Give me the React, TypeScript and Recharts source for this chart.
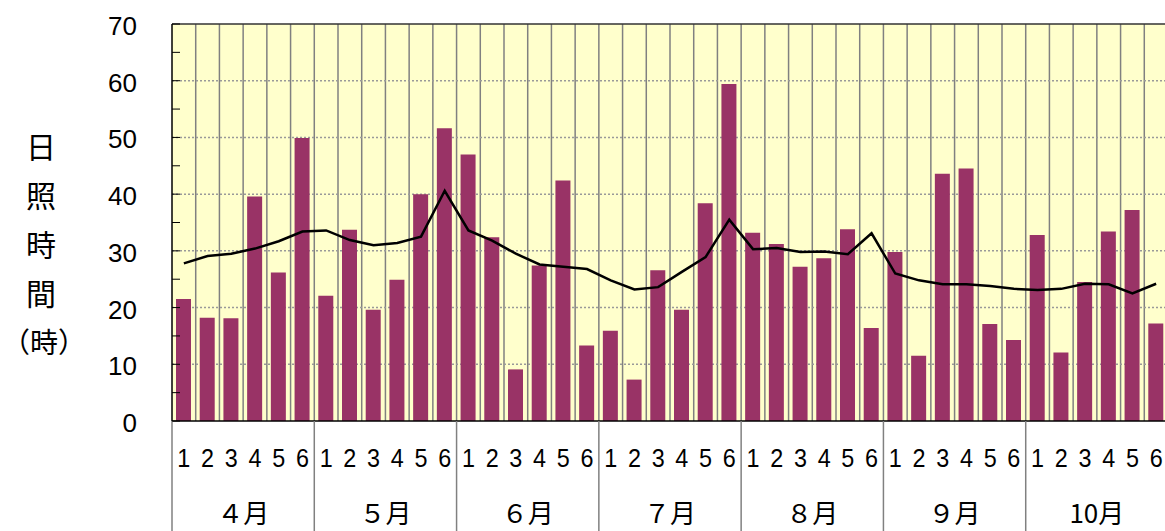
import { ComposedChart, Bar, Line, XAxis, YAxis, CartesianGrid, ReferenceLine, Label } from 'recharts'

const months = ['４月', '５月', '６月', '７月', '８月', '９月', '10月']
const days = ['1', '2', '3', '4', '5', '6']

// 半旬ごとの日照時間
const hours = [
  21.5, 18.2, 18.1, 39.6, 26.2, 49.9,
  22.1, 33.7, 19.6, 24.9, 40.0, 51.6,
  47.0, 32.4, 9.1, 27.4, 42.4, 13.3,
  15.9, 7.3, 26.6, 19.6, 38.4, 59.4,
  33.2, 31.2, 27.2, 28.7, 33.8, 16.4,
  29.8, 11.5, 43.6, 44.5, 17.1, 14.3,
  32.8, 12.1, 24.5, 33.4, 37.2, 17.2,
]

// 平年値
const normal = [
  27.8, 29.1, 29.5, 30.4, 31.7, 33.4,
  33.6, 31.9, 31.0, 31.4, 32.5, 40.6,
  33.6, 31.8, 29.5, 27.6, 27.2, 26.8,
  24.8, 23.2, 23.6, 26.3, 28.9, 35.5,
  30.3, 30.5, 29.8, 29.9, 29.4, 33.1,
  26.0, 24.8, 24.1, 24.1, 23.8, 23.3,
  23.1, 23.3, 24.2, 24.1, 22.5, 24.2,
]

const yTicks = [0, 5, 10, 15, 20, 25, 30, 35, 40, 45, 50, 55, 60, 65, 70]
const titleChars = ['日', '照', '時', '間']
const titleUnit = '（時）'

const data = hours.map((h, i) => ({
  key: i,
  day: days[i % days.length],
  month: months[Math.floor(i / days.length)],
  hours: h,
  normal: normal[i],
}))

const CHART_W = 1180
const CHART_H = 531
const PLOT_LEFT = 172
const PLOT_TOP = 24
const AXIS_H = 110
const MARGIN_RIGHT = 12
const PLOT_W = CHART_W - PLOT_LEFT - MARGIN_RIGHT
const BAND = PLOT_W / data.length
const NUM_FONT = '"Liberation Sans", Arial, sans-serif'
const JP_FONT = '"Noto Sans CJK JP", "Liberation Sans", sans-serif'

function DayTick(props: any) {
  const { x, y, payload } = props
  const index = props.index ?? payload.index
  const bottom = y + AXIS_H
  return (
    <g>
      <text x={x} y={y + 37} textAnchor="middle" dominantBaseline="central"
        fontSize={26} fontFamily={NUM_FONT} fill="#000" textLength={13} lengthAdjust="spacingAndGlyphs">
        {payload.value}
      </text>
      {index % days.length === 0 && (
        <line x1={x - BAND / 2} x2={x - BAND / 2} y1={y} y2={bottom} stroke="#808080" strokeWidth={1.5} />
      )}
      {index === data.length - 1 && (
        <line x1={x + BAND / 2} x2={x + BAND / 2} y1={y} y2={bottom} stroke="#808080" strokeWidth={1.5} />
      )}
      {index % days.length === 2 && (
        <text x={x + BAND / 2} y={y + 90} textAnchor="middle" dominantBaseline="central"
          fontSize={26} fontFamily={JP_FONT} fill="#000">
          {data[index].month}
        </text>
      )}
    </g>
  )
}

function HourTick(props: any) {
  const { y, payload } = props
  const major = payload.value % 10 === 0
  return (
    <g>
      <line x1={PLOT_LEFT} x2={PLOT_LEFT + 8} y1={y} y2={y} stroke="#000" strokeWidth={1} />
      {major && (
        <text x={PLOT_LEFT - 35} y={y + 2} textAnchor="end" dominantBaseline="central"
          fontSize={26} fontFamily={NUM_FONT} fill="#000">
          {payload.value}
        </text>
      )}
    </g>
  )
}

function AxisTitle() {
  return (
    <g>
      {titleChars.map((c, i) => (
        <text key={c} x={41} y={145 + i * 49} textAnchor="middle" dominantBaseline="central"
          fontSize={30} fontFamily={JP_FONT} fill="#000">
          {c}
        </text>
      ))}
      <text x={44} y={145 + titleChars.length * 49} textAnchor="middle" dominantBaseline="central"
        fontSize={28} fontFamily={JP_FONT} fill="#000">
        {titleUnit}
      </text>
    </g>
  )
}

export default function App() {
  return (
    <div style={{ position: 'fixed', left: 0, top: 0, width: 1165, height: 531, overflow: 'hidden', background: '#fff' }}>
      <ComposedChart
        width={CHART_W}
        height={CHART_H}
        data={data}
        margin={{ top: PLOT_TOP, right: MARGIN_RIGHT, bottom: 0, left: 0 }}
        barCategoryGap="20%"
      >
        <CartesianGrid
          fill="#FFFFCC"
          horizontal={false}
          stroke="#808080"
          strokeWidth={1.5}
          verticalCoordinatesGenerator={({ offset }: any) =>
            data.slice(1).map((_, i) => offset.left + ((i + 1) * offset.width) / data.length)
          }
        />
        <CartesianGrid
          vertical={false}
          stroke="#999"
          strokeWidth={1.5}
          strokeDasharray="2 2"
          horizontalCoordinatesGenerator={({ offset }: any) =>
            [10, 20, 30, 40, 50, 60].map((v) => offset.top + offset.height * (1 - v / 70))
          }
        />
        <XAxis
          dataKey="key"
          height={AXIS_H}
          interval={0}
          tickLine={false}
          tickSize={0}
          tickMargin={0}
          axisLine={{ stroke: '#000', strokeWidth: 1.5 }}
          tick={(p: any) => <DayTick {...p} payload={{ ...p.payload, value: data[p.payload.value]?.day ?? p.payload.value }} index={p.index ?? p.payload.index} />}
        />
        <YAxis
          width={PLOT_LEFT}
          domain={[0, 70]}
          ticks={yTicks}
          interval={0}
          tickLine={false}
          tickSize={0}
          tickMargin={0}
          axisLine={{ stroke: '#000', strokeWidth: 1.5 }}
          tick={<HourTick />}
        >
          <Label content={<AxisTitle />} />
        </YAxis>
        <ReferenceLine y={70} stroke="#333" strokeWidth={1.5} />
        <Bar dataKey="hours" fill="#993366" barSize={15} isAnimationActive={false} />
        <Line
          dataKey="normal"
          type="linear"
          stroke="#000"
          strokeWidth={2.5}
          dot={false}
          activeDot={false}
          isAnimationActive={false}
        />
      </ComposedChart>
    </div>
  )
}
